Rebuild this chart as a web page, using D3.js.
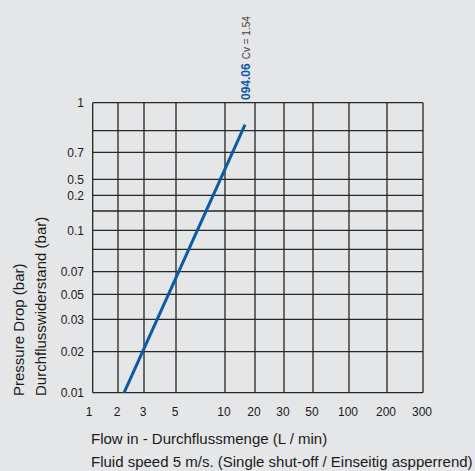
<!DOCTYPE html>
<html>
<head>
<meta charset="utf-8">
<script src="https://cdn.jsdelivr.net/npm/d3@7"></script>
<style>
  html, body { margin: 0; padding: 0; background: #e5e6e8; }
  svg { display: block; font-family: "Liberation Sans", Arial, sans-serif; }
</style>
</head>
<body>
<svg id="chart" width="475" height="471"></svg>
<script>
// Flow values for the vertical grid lines (all labelled)
const flowTicks = [1, 2, 3, 5, 10, 20, 30, 50, 100, 200, 300];

// Pressure values for the horizontal grid lines, top to bottom.
// Some lines in the original carry no label.
const dropGrid = [1, 0.85, 0.7, 0.5, 0.2, 0.15, 0.1, 0.085, 0.07, 0.05, 0.03, 0.02, 0.01];
const dropLabels = [1, 0.7, 0.5, 0.2, 0.1, 0.07, 0.05, 0.03, 0.02, 0.01];

// The valve curve: flow (L/min) vs pressure drop (bar)
const curve = [
  { flow: 2.2, drop: 0.01 },
  { flow: 15.9, drop: 0.88 }
];
const curveName = '094.06';
const curveCv = 'Cv = 1.54';

// The chart's axes are hand drawn, not a true log grid, so the scales are piecewise.
const xPos = [92.7, 118, 144, 176, 225, 255, 284, 313, 349, 387, 423];
const yPos = [102.7, 130.7, 152.3, 179.3, 195.3, 211, 230.3, 249.3, 271.7, 294.3, 319.3, 351.7, 392.7];

const x = d3.scaleLog().domain(flowTicks).range(xPos);
const y = d3.scaleLog().domain(dropGrid).range(yPos);

const svg = d3.select('#chart');
const plotLeft = x(flowTicks[0]), plotRight = x(flowTicks[flowTicks.length - 1]);
const plotTop = y(dropGrid[0]), plotBottom = y(dropGrid[dropGrid.length - 1]);

const grid = svg.append('g').attr('stroke', '#262626').attr('stroke-width', 1.3);

grid.selectAll('.v')
  .data(flowTicks)
  .enter().append('line')
  .attr('x1', d => x(d)).attr('x2', d => x(d))
  .attr('y1', plotTop).attr('y2', plotBottom);

grid.selectAll('.h')
  .data(dropGrid)
  .enter().append('line')
  .attr('y1', d => y(d)).attr('y2', d => y(d))
  .attr('x1', plotLeft).attr('x2', plotRight);

// tick labels
svg.append('g')
  .attr('font-size', 12).attr('fill', '#1a1a1a').attr('text-anchor', 'end')
  .selectAll('text')
  .data(dropLabels)
  .enter().append('text')
  .attr('x', 84)
  .attr('y', d => y(d) + 4.5)
  .text(d => d);

svg.append('g')
  .attr('font-size', 12).attr('fill', '#1a1a1a').attr('text-anchor', 'middle')
  .selectAll('text')
  .data(flowTicks)
  .enter().append('text')
  .attr('x', (d, i) => i === 0 ? x(d) - 3.5 : x(d) - 1)
  .attr('y', 416)
  .text(d => d);

// the curve
const line = d3.line().x(d => x(d.flow)).y(d => y(d.drop));
svg.append('path')
  .datum(curve)
  .attr('d', line)
  .attr('fill', 'none')
  .attr('stroke', '#0b5aa8')
  .attr('stroke-width', 3);

// curve label, rotated, above the plot
const topPt = curve[curve.length - 1];
const lab = svg.append('text')
  .attr('transform', `translate(${x(topPt.flow) + 4.5},100) rotate(-90)`);
lab.append('tspan')
  .attr('font-size', 12).attr('font-weight', 'bold').attr('fill', '#0b5aa8')
  .text(curveName);
lab.append('tspan')
  .attr('dx', 4).attr('font-size', 10).attr('fill', '#444')
  .text(curveCv);

// axis titles
const yt = svg.append('g').attr('font-size', 15).attr('fill', '#1a1a1a');
yt.append('text').attr('transform', 'translate(23.5,396) rotate(-90)').text('Pressure Drop (bar)');
yt.append('text').attr('transform', 'translate(45.5,396) rotate(-90)').text('Durchflusswiderstand (bar)');

const xt = svg.append('g').attr('font-size', 15).attr('fill', '#1a1a1a');
xt.append('text').attr('x', 91).attr('y', 444).text('Flow in - Durchflussmenge (L / min)');
xt.append('text').attr('x', 91).attr('y', 466.5).text('Fluid speed 5 m/s. (Single shut-off / Einseitig aspperrend)');
</script>
</body>
</html>
